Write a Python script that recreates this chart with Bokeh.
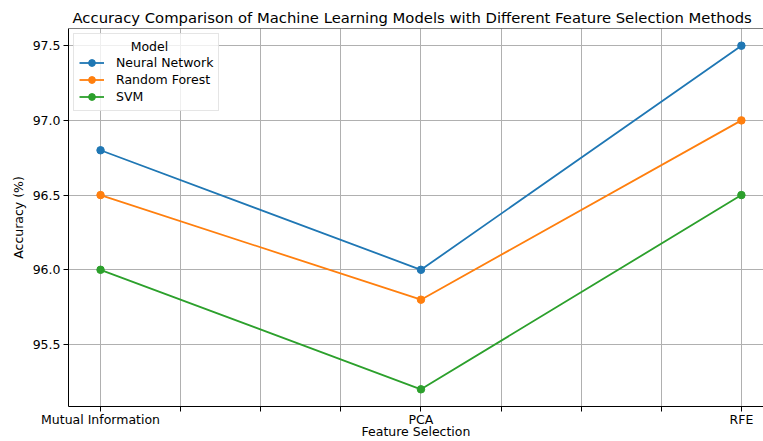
from bokeh.plotting import figure
from bokeh.models import FixedTicker, Span, Range1d, Legend, LegendItem, PrintfTickFormatter
from bokeh.embed import file_html
from bokeh.resources import INLINE

categories = ["Mutual Information", "PCA", "RFE"]
models = ["Neural Network", "Random Forest", "SVM"]
nn = [96.8, 96.0, 97.5]
rf = [96.5, 95.8, 97.0]
svm = [96.0, 95.2, 96.5]
y_ticks = [95.5, 96.0, 96.5, 97.0, 97.5]
colors = ["#1f77b4", "#ff7f0e", "#2ca02c"]

FONT = "DejaVu Sans"
x = list(range(len(categories)))
series = [nn, rf, svm]

y_lo, y_hi = 95.085, 97.615
p = figure(width=763, height=441, output_backend="svg", toolbar_location=None,
           x_range=Range1d(-0.1, 2.069), y_range=Range1d(y_lo, y_hi),
           min_border_left=68, min_border_right=0, min_border_top=28, min_border_bottom=34)

p.title.text = "Accuracy Comparison of Machine Learning Models with Different Feature Selection Methods"
p.title.text_font = FONT
p.title.text_font_size = "14.8px"
p.title.text_font_style = "normal"
p.title.text_color = "black"
p.title.align = "left"
p.title.offset = 4
p.title.standoff = 6

p.outline_line_color = None
p.background_fill_color = "white"

xt = [i / 4 for i in range(4 * (len(categories) - 1) + 1)]
p.xaxis.ticker = FixedTicker(ticks=xt)
overrides = {}
for t in xt:
    if float(t).is_integer():
        overrides[int(t)] = categories[int(t)]
    else:
        overrides[t] = ""
p.xaxis.major_label_overrides = overrides
p.yaxis.ticker = FixedTicker(ticks=y_ticks)
p.yaxis.formatter = PrintfTickFormatter(format="%.1f")

p.xaxis.axis_label = "Feature Selection"
p.yaxis.axis_label = "Accuracy (%)"
for ax in p.axis:
    ax.axis_label_text_font = FONT
    ax.axis_label_text_font_size = "12.5px"
    ax.axis_label_text_font_style = "normal"
    ax.axis_label_text_color = "black"
    ax.axis_label_text_line_height = 1.0
    ax.major_label_text_font = FONT
    ax.major_label_text_font_size = "12.5px"
    ax.major_label_text_color = "black"
    ax.major_label_text_line_height = 1.0
    ax.axis_line_color = "black"
    ax.axis_line_width = 1
    ax.major_tick_line_color = "black"
    ax.major_tick_out = 5
    ax.major_tick_in = 0
    ax.minor_tick_line_color = None
p.xaxis.major_label_standoff = 0
p.xaxis.axis_label_standoff = -6
p.yaxis.major_label_standoff = 3
p.yaxis.axis_label_standoff = 4

p.grid.grid_line_color = "#b0b0b0"
p.grid.grid_line_width = 1

p.add_layout(Span(location=y_hi, dimension="width", line_color="black", line_width=1))

items = []
for name, vals, c in zip(models, series, colors):
    lr = p.line(x, vals, line_color=c, line_width=1.8)
    sr = p.scatter(x, vals, size=7.5, fill_color=c, line_color=c)
    items.append(LegendItem(label=name, renderers=[lr, sr]))

legend = Legend(items=items, location="top_left", title="\u00a0" * 13 + "Model")
legend.margin = 5
legend.padding = 5
legend.spacing = 0
legend.label_height = 17
legend.glyph_height = 17
legend.glyph_width = 25
legend.label_standoff = 12
legend.label_text_font = FONT
legend.label_text_font_size = "12.5px"
legend.label_text_color = "black"
legend.title_text_font = FONT
legend.title_text_font_size = "12.5px"
legend.title_text_font_style = "normal"
legend.title_text_color = "black"
legend.title_standoff = 0
legend.border_line_color = "#cccccc"
legend.border_line_width = 1
legend.background_fill_alpha = 0.8
p.add_layout(legend)

open("out.html", "w").write(file_html(p, INLINE))
